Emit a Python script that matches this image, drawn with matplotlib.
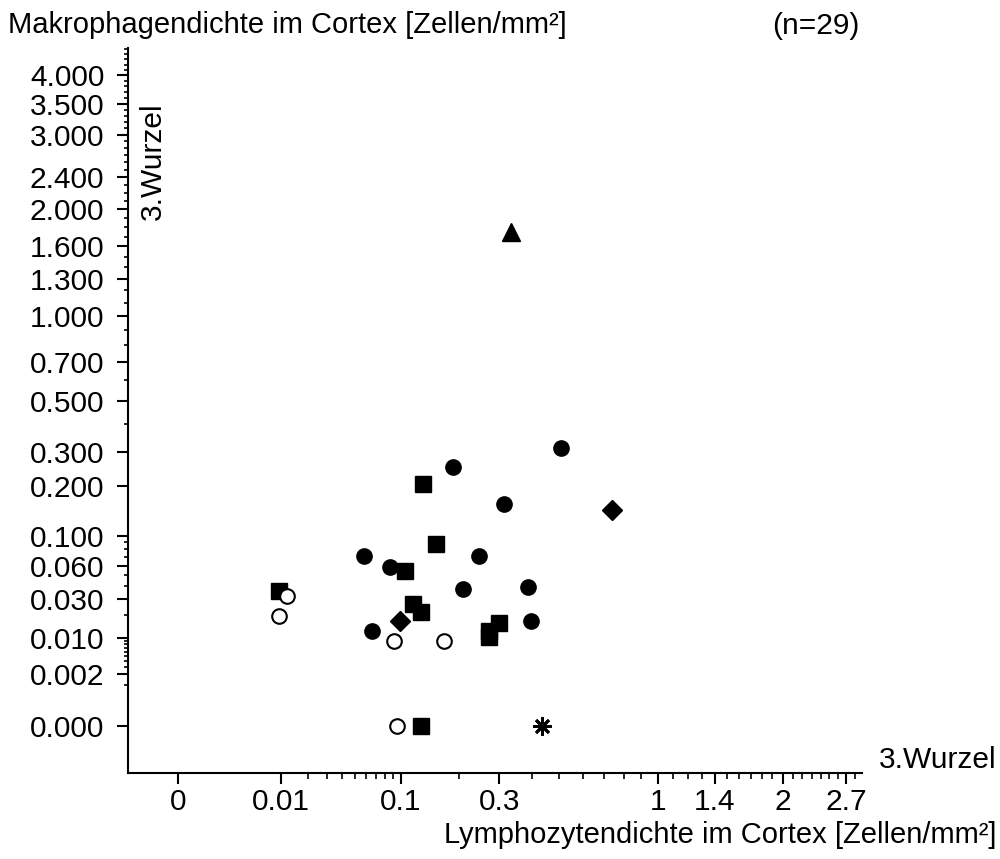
import numpy as np
import matplotlib
matplotlib.use("Agg")
import matplotlib.pyplot as plt

plt.rcParams['font.family'] = ['Liberation Sans', 'DejaVu Sans']

# Data (Lymphozytendichte x, Makrophagendichte y) per marker group
circ_x = [0.0582, 0.0862, 0.0660, 0.1887, 0.2459, 0.2100, 0.3133, 0.5068, 0.3867, 0.3988]
circ_y = [0.0713, 0.0583, 0.0124, 0.2530, 0.0717, 0.0376, 0.1594, 0.3127, 0.0392, 0.0167]
sq_x = [0.00932, 0.1325, 0.1558, 0.1054, 0.1178, 0.1293, 0.2991, 0.2720, 0.2720, 0.1298]
sq_y = [0.0359, 0.2056, 0.0875, 0.0537, 0.0264, 0.0217, 0.0159, 0.0124, 0.0102, 0.0]
open_x = [0.01181, 0.00932, 0.0908, 0.1702, 0.0954]
open_y = [0.0319, 0.0195, 0.0090, 0.0089, 0.0]
dia_x = [0.0993, 0.7407]
dia_y = [0.0169, 0.1462]
tri_x = [0.3339]
tri_y = [1.749]
star_x = [0.4361]
star_y = [0.0]

x_major = [0, 0.01, 0.1, 0.3, 1, 1.4, 2, 2.7]
x_major_labels = ['0', '0.01', '0.1', '0.3', '1', '1.4', '2', '2.7']
x_minor = [0.02, 0.03, 0.04, 0.05, 0.06, 0.07, 0.08, 0.09, 0.2, 0.4, 0.5, 0.6, 0.7, 0.8, 0.9,
           1.1, 1.2, 1.3, 1.5, 1.6, 1.7, 1.8, 1.9, 2.1, 2.2, 2.3, 2.4, 2.5, 2.6, 2.8]
y_major = [0, 0.002, 0.01, 0.03, 0.06, 0.1, 0.2, 0.3, 0.5, 0.7, 1.0, 1.3, 1.6, 2.0, 2.4, 3.0, 3.5, 4.0]
y_major_labels = ['0.000', '0.002', '0.010', '0.030', '0.060', '0.100', '0.200', '0.300', '0.500',
                  '0.700', '1.000', '1.300', '1.600', '2.000', '2.400', '3.000', '3.500', '4.000']
y_minor = [0.001, 0.003, 0.004, 0.005, 0.006, 0.007, 0.008, 0.009, 0.02, 0.04, 0.05, 0.07, 0.08, 0.09,
           0.4, 0.6, 0.8, 0.9, 1.1, 1.2, 1.4, 1.5, 1.7, 1.8, 1.9, 2.1, 2.2, 2.3, 2.5, 2.6, 2.7, 2.8,
           2.9, 3.1, 3.2, 3.3, 3.4, 3.6, 3.7, 3.8, 3.9, 4.1, 4.2, 4.3, 4.4, 4.5]

FS = 21.5
FS_LAB = 21
H = 859

fig = plt.figure(figsize=(10, 8.59), dpi=100)
ax = fig.add_axes([0.128, 0.1001, 0.862 - 0.128, 0.9441 - 0.1001])

fwd = lambda v: np.cbrt(v)
inv = lambda v: np.power(v, 3)
ax.set_xscale('function', functions=(fwd, inv))
ax.set_yscale('function', functions=(fwd, inv))

ms = 11
ax.plot(circ_x, circ_y, 'o', color='black', ms=ms, ls='none', clip_on=False)
ax.plot(sq_x, sq_y, 's', color='black', ms=ms, ls='none', clip_on=False)
ax.plot(open_x, open_y, 'o', mfc='white', mec='black', mew=1.5, ms=10.5, ls='none', clip_on=False)
ax.plot(dia_x, dia_y, 'D', color='black', ms=9.8, ls='none', clip_on=False)
ax.plot(tri_x, tri_y, '^', color='black', ms=13, ls='none', clip_on=False)
ax.plot(star_x, star_y, marker=(8, 2, 0), color='black', mew=2.0, ms=13, ls='none', clip_on=False)

ax.set_xlim(-0.001125, 2.894)
ax.set_ylim(-0.001505, 4.522)

ax.set_xticks(x_major)
ax.set_xticklabels(x_major_labels)
ax.set_xticks(x_minor, minor=True)
ax.set_yticks(y_major)
ax.set_yticklabels(y_major_labels)
ax.set_yticks(y_minor, minor=True)

for s in ['top', 'right']:
    ax.spines[s].set_visible(False)
for s in ['left', 'bottom']:
    ax.spines[s].set_linewidth(1.5)

ax.tick_params(axis='both', which='major', direction='out', length=8, width=1.5, labelsize=FS, colors='black')
ax.tick_params(axis='both', which='minor', direction='out', length=4, width=1.2)
ax.tick_params(axis='y', which='minor', length=3)
ax.tick_params(axis='x', which='major', pad=3)
ax.tick_params(axis='y', which='major', pad=9)

fig.text(0.008, 1 - 33 / H, 'Makrophagendichte im Cortex [Zellen/mm²]', fontsize=FS_LAB, ha='left', va='baseline')
fig.text(0.860, 1 - 34 / H, '(n=29)', fontsize=FS, ha='right', va='baseline')
fig.text(0.996, 1 - 843 / H, 'Lymphozytendichte im Cortex [Zellen/mm²]', fontsize=FS_LAB, ha='right', va='baseline')
fig.text(0.996, 1 - 768 / H, '3.Wurzel', fontsize=FS, ha='right', va='baseline')
fig.text(0.153, 1 - 161 / H, '3.Wurzel', fontsize=FS, ha='center', va='center', rotation=90)

fig.savefig('out.png', dpi=100)
